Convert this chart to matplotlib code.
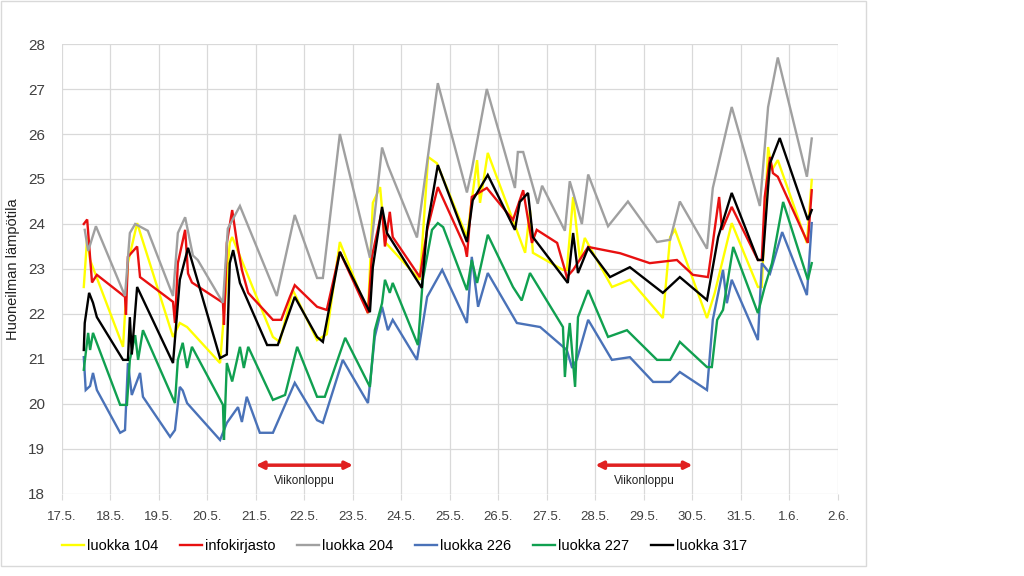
import matplotlib
matplotlib.use("Agg")
import matplotlib.pyplot as plt
from matplotlib.patches import Rectangle

######################################
# x = days after 17.5. 00:00, values = room temperature (C)
dayLabels = ['17.5.', '18.5.', '19.5.', '20.5.', '21.5.', '22.5.', '23.5.', '24.5.', '25.5.',
             '26.5.', '27.5.', '28.5.', '29.5.', '30.5.', '31.5.', '1.6.', '2.6.']

names = ['luokka 104', 'infokirjasto', 'luokka 204', 'luokka 226', 'luokka 227', 'luokka 317']
colors = ['#FFFF00', '#E81010', '#A0A0A0', '#4A72B8', '#10A050', '#000000']

t104 = [0.45, 0.52, 0.58, 1.26, 1.36, 1.55, 2.29, 2.43, 2.58, 3.26, 3.46, 3.51, 4.35, 4.49, 4.76,
        5.26, 5.46, 5.73, 6.31, 6.41, 6.56, 6.66, 7.38, 7.55, 7.73, 8.35, 8.56, 8.62, 8.78, 9.55,
        9.65, 9.71, 10.33, 10.41, 10.54, 10.68, 10.78, 11.34, 11.71, 12.39, 12.54, 12.64, 13.30,
        13.46, 13.81, 14.35, 14.43, 14.56, 14.64, 14.76, 15.36, 15.46]
v104 = [22.6, 23.7, 23.2, 21.27, 23.13, 24.02, 21.49, 21.8, 21.71, 20.91, 23.58, 23.71, 21.49, 21.38, 22.53,
        21.42, 21.55, 23.6, 22.02, 24.47, 24.82, 23.6, 22.76, 25.49, 25.35, 23.71, 25.42, 24.47, 25.58, 23.36,
        24.31, 23.36, 22.98, 22.98, 24.6, 23.2, 23.69, 22.6, 22.76, 21.91, 23.71, 23.87, 21.91,
        22.47, 24.02, 22.6, 22.6, 25.71, 25.2, 25.42, 23.58, 24.98]

tInfo = [0.45, 0.52, 0.62, 0.72, 1.30, 1.32, 1.36, 1.55, 1.61, 2.29, 2.33, 2.39, 2.54, 2.60, 2.68,
         3.32, 3.34, 3.40, 3.51, 3.61, 3.71, 3.84, 4.35, 4.52, 4.70, 4.80, 5.26, 5.46, 5.73, 6.31,
         6.39, 6.60, 6.66, 6.76, 6.82, 7.38, 7.53, 7.75, 8.31, 8.35, 8.45, 8.76, 9.30, 9.51, 9.69,
         9.79, 10.21, 10.37, 10.41, 10.54, 10.85, 11.51, 12.12, 12.68, 13.01, 13.32, 13.42, 13.55,
         13.61, 13.81, 14.35, 14.43, 14.49, 14.60, 14.66, 14.76, 15.38, 15.46]
vInfo = [24.0, 24.1, 22.7, 22.87, 22.38, 21.98, 23.27, 23.5, 22.82, 22.27, 21.8, 23.13, 23.87, 22.9, 22.7,
         22.25, 21.76, 23.58, 24.31, 23.58, 22.98, 22.47, 21.87, 21.87, 22.38, 22.64, 22.16, 22.09, 23.38, 22.02,
         23.27, 24.31, 23.5, 24.27, 23.71, 22.82, 23.87, 24.82, 23.49, 23.27, 24.6, 24.8, 24.09, 24.75, 23.58,
         23.87, 23.58, 22.98, 22.82, 22.98, 23.49, 23.35, 23.13, 23.2, 22.87, 22.82, 23.58, 24.6,
         23.87, 24.38, 23.2, 23.2, 24.6, 25.49, 25.13, 25.05, 23.58, 24.75]

t204 = [0.47, 0.54, 0.70, 1.30, 1.40, 1.51, 1.77, 2.29, 2.39, 2.54, 2.70, 2.80, 3.32, 3.42, 3.67,
        4.43, 4.80, 5.26, 5.38, 5.73, 6.35, 6.60, 6.72, 7.32, 7.75, 8.35, 8.45, 8.76, 9.34, 9.40,
        9.51, 9.81, 9.90, 10.37, 10.47, 10.54, 10.72, 10.85, 11.26, 11.67, 12.27, 12.54, 12.74,
        13.30, 13.42, 13.81, 14.39, 14.56, 14.76, 15.36, 15.46]
v204 = [23.87, 23.4, 23.95, 22.4, 23.8, 24.0, 23.85, 22.4, 23.8, 24.15, 23.3, 23.2, 22.25, 23.9, 24.4,
        22.4, 24.2, 22.8, 22.8, 26.0, 23.25, 25.7, 25.3, 23.7, 27.13, 24.7, 25.2, 27.0, 24.8, 25.6,
        25.6, 24.45, 24.85, 23.85, 24.95, 24.7, 24.0, 25.1, 23.95, 24.5, 23.6, 23.65, 24.5,
        23.45, 24.8, 26.6, 24.4, 26.6, 27.7, 25.05, 25.9]

t226 = [0.45, 0.49, 0.58, 0.64, 0.72, 1.20, 1.30, 1.36, 1.44, 1.61, 1.67, 2.23, 2.33, 2.43, 2.49,
        2.58, 3.26, 3.40, 3.63, 3.71, 3.81, 4.08, 4.35, 4.80, 5.26, 5.38, 5.79, 6.31, 6.45, 6.60,
        6.72, 6.82, 7.32, 7.53, 7.84, 8.35, 8.45, 8.58, 8.78, 9.38, 9.86, 10.41, 10.52, 10.62,
        10.85, 11.34, 11.71, 12.19, 12.54, 12.74, 13.30, 13.42, 13.63, 13.71, 13.81, 14.35, 14.43,
        14.60, 14.85, 15.36, 15.46]
v226 = [21.04, 20.31, 20.4, 20.69, 20.31, 19.36, 19.42, 20.91, 20.2, 20.69, 20.16, 19.27, 19.42, 20.38, 20.3,
        20.02, 19.2, 19.58, 19.93, 19.6, 20.16, 19.36, 19.36, 20.47, 19.64, 19.58, 20.98, 20.02, 21.49, 22.16,
        21.64, 21.87, 20.98, 22.38, 22.98, 21.8, 23.27, 22.16, 22.91, 21.8, 21.71, 21.2, 20.8, 21.0,
        21.87, 20.98, 21.04, 20.49, 20.49, 20.71, 20.31, 21.87, 22.98, 22.24, 22.76, 21.42, 23.13,
        22.9, 23.82, 22.42, 24.02]

t227 = [0.45, 0.54, 0.58, 0.64, 1.20, 1.34, 1.40, 1.51, 1.57, 1.67, 2.33, 2.39, 2.49, 2.58, 2.68,
        3.32, 3.34, 3.40, 3.51, 3.67, 3.75, 3.84, 4.35, 4.60, 4.85, 5.26, 5.42, 5.84, 6.35, 6.45,
        6.60, 6.66, 6.76, 6.82, 7.34, 7.44, 7.63, 7.75, 7.86, 8.35, 8.45, 8.56, 8.78, 9.30, 9.48,
        9.65, 10.33, 10.37, 10.41, 10.47, 10.58, 10.64, 10.85, 11.26, 11.65, 12.27, 12.54, 12.74,
        13.30, 13.40, 13.51, 13.63, 13.84, 14.35, 14.49, 14.64, 14.87, 15.38, 15.46]
v227 = [20.76, 21.58, 21.2, 21.58, 19.98, 19.98, 20.98, 21.53, 20.98, 21.64, 20.02, 20.98, 21.36, 20.8, 21.27,
        19.98, 19.2, 20.91, 20.5, 21.27, 20.8, 21.27, 20.09, 20.2, 21.27, 20.16, 20.16, 21.47, 20.38, 21.64,
        22.24, 22.76, 22.47, 22.69, 21.31, 22.76, 23.87, 24.02, 23.93, 22.53, 23.2, 22.69, 23.76, 22.6, 22.3,
        22.91, 21.71, 20.6, 21.2, 21.8, 20.38, 21.93, 22.53, 21.49, 21.64, 20.98, 20.98, 21.38,
        20.82, 20.82, 21.87, 22.09, 23.49, 22.02, 22.6, 23.13, 24.49, 22.76, 23.13]

t317 = [0.45, 0.47, 0.56, 0.64, 0.72, 1.26, 1.36, 1.40, 1.44, 1.55, 2.29, 2.43, 2.60, 3.26, 3.40,
        3.46, 3.53, 3.67, 4.23, 4.45, 4.80, 5.26, 5.38, 5.73, 6.35, 6.41, 6.60, 6.70, 7.42, 7.53,
        7.75, 8.35, 8.47, 8.78, 9.34, 9.44, 9.61, 9.71, 10.43, 10.54, 10.64, 10.85, 11.30, 11.71,
        12.39, 12.74, 13.30, 13.53, 13.81, 14.35, 14.45, 14.56, 14.60, 14.80, 15.38, 15.46]
v317 = [21.2, 21.8, 22.47, 22.25, 21.93, 20.98, 20.98, 21.93, 21.1, 22.6, 20.91, 22.76, 23.47, 21.02, 21.1,
        23.13, 23.42, 22.69, 21.31, 21.31, 22.38, 21.49, 21.38, 23.38, 22.04, 23.04, 24.38, 23.8, 22.58, 23.93,
        25.31, 23.6, 24.53, 25.09, 23.87, 24.49, 24.69, 23.71, 22.69, 23.8, 22.91, 23.47, 22.82, 23.04,
        22.47, 22.82, 22.31, 23.71, 24.69, 23.2, 23.2, 24.82, 25.35, 25.91, 24.09, 24.31]

times = [t104, tInfo, t204, t226, t227, t317]
values = [v104, vInfo, v204, v226, v227, v317]

weekends = [(4, 6), (11, 13)]
weekendText = 'Viikonloppu'
######################################

plt.rcParams['font.family'] = ['Liberation Sans', 'DejaVu Sans']

fig = plt.figure(figsize=(10.24, 5.76), dpi=100)
ax = fig.add_axes([0.0605, 0.1424, 0.7578, 0.7812])

for t, v, c, n in zip(times, values, colors, names):
    ax.plot(t, v, color=c, lw=1.7, label=n, solid_joinstyle='miter')

ax.set_xlim(0, 16)
ax.set_ylim(18, 28)
ax.set_xticks(range(len(dayLabels)))
ax.set_xticklabels(dayLabels)
ax.set_yticks(range(18, 29))
ax.grid(True, color='#D9D9D9', lw=0.9)
ax.set_axisbelow(True)
for s in ax.spines.values():
    s.set_visible(False)
ax.tick_params(axis='x', length=4, color='#D9D9D9', labelsize=9.5, labelcolor='#404040', pad=8)
ax.tick_params(axis='y', length=0, labelsize=11, labelcolor='#404040', pad=12)
ax.set_ylabel('Huoneilman lämpötila', fontsize=10.5, color='#202020', labelpad=6)

# weekend arrows
for a, b in weekends:
    ax.annotate('', xy=(b, 18.64), xytext=(a, 18.64),
                arrowprops=dict(arrowstyle='<|-|>', color='#E02020', lw=2.5, mutation_scale=11,
                                shrinkA=0, shrinkB=0))
    ax.text((a + b) / 2, 18.29, weekendText, ha='center', va='center', fontsize=8.5, color='#202020')

fig.legend(loc='center', bbox_to_anchor=(0.395, 0.052), ncol=6, frameon=False, fontsize=10.5,
           handlelength=1.5, handletextpad=0.2, columnspacing=1.5)

fig.patches.append(Rectangle((0.001, 0.017), 0.845, 0.981, transform=fig.transFigure,
                             fill=False, ec='#D9D9D9', lw=1))

fig.savefig('out.png', dpi=100)
